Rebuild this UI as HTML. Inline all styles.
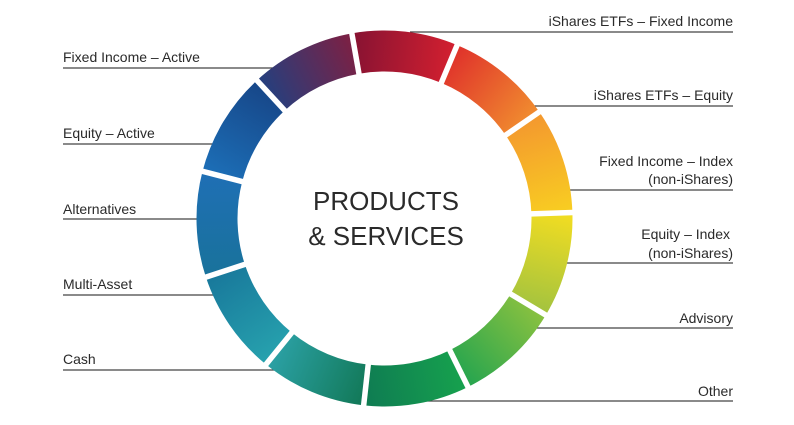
<!DOCTYPE html>
<html><head><meta charset="utf-8"><style>
body{margin:0;background:#fff;width:794px;height:420px;overflow:hidden}
svg text{font-family:"Liberation Sans",sans-serif;fill:#2a2a2a}
</style></head><body>
<svg id="s" width="794" height="420" viewBox="0 0 794 420" xmlns="http://www.w3.org/2000/svg">
<defs id="d"></defs>
<g stroke="#444" stroke-width="1.2">
<line x1="63" y1="68" x2="300" y2="68"/>
<line x1="63" y1="144" x2="300" y2="144"/>
<line x1="63" y1="219" x2="300" y2="219"/>
<line x1="63" y1="295" x2="300" y2="295"/>
<line x1="63" y1="370" x2="300" y2="370"/>
<line x1="410" y1="32" x2="733" y2="32"/>
<line x1="450" y1="106" x2="733" y2="106"/>
<line x1="450" y1="190" x2="733" y2="190"/>
<line x1="450" y1="263" x2="733" y2="263"/>
<line x1="450" y1="328" x2="733" y2="328"/>
<line x1="410" y1="401" x2="733" y2="401"/>
</g>
<circle cx="384.5" cy="218.5" r="170" fill="#fff"/>
<g id="ring"></g>
<g font-size="14">
<text x="63" y="62">Fixed Income – Active</text>
<text x="63" y="138">Equity – Active</text>
<text x="63" y="214">Alternatives</text>
<text x="63" y="289">Multi-Asset</text>
<text x="63" y="364">Cash</text>
<g text-anchor="end">
<text x="733" y="26">iShares ETFs – Fixed Income</text>
<text x="733" y="100">iShares ETFs – Equity</text>
<text x="733" y="166">Fixed Income – Index</text>
<text x="733" y="184">(non-iShares)</text>
<text x="730" y="239">Equity – Index</text>
<text x="733" y="258">(non-iShares)</text>
<text x="733" y="323">Advisory</text>
<text x="733" y="396">Other</text>
</g></g>
<g font-size="26" text-anchor="middle">
<text x="386" y="210">PRODUCTS</text>
<text x="386" y="245">&amp; SERVICES</text>
</g>
</svg>
<script>
var cx=384.5,cy=218.5,R=188,r=147,n=11,start=-100,step=360/11;
var cols=[["#8a1332","#d01f30"],["#e0352b","#f0892f"],["#f49a2e","#f8cc22"],["#f0dc22","#a6c43e"],["#86c040","#2aa64e"],["#16a04e","#0f7d52"],["#137a5a","#2a9fa2"],["#26a0ad","#197a9c"],["#19729c","#1f6fb4"],["#1c6db5","#17488a"],["#283e7c","#7a2145"]];
var d=document.getElementById("d"),g=document.getElementById("ring"),h="",dh="";
function P(a,rr){a=a*Math.PI/180;return [cx+rr*Math.cos(a),cy+rr*Math.sin(a)];}
for(var i=0;i<n;i++){var a0=start+i*step,a1=a0+step;
var p0=P(a0,R),p1=P(a1,R),q1=P(a1,r),q0=P(a0,r),m0=P(a0,(R+r)/2),m1=P(a1,(R+r)/2);
dh+='<linearGradient id="g'+i+'" gradientUnits="userSpaceOnUse" x1="'+m0[0]+'" y1="'+m0[1]+'" x2="'+m1[0]+'" y2="'+m1[1]+'"><stop offset="0" stop-color="'+cols[i][0]+'"/><stop offset="1" stop-color="'+cols[i][1]+'"/></linearGradient>';
h+='<path fill="url(#g'+i+')" d="M'+p0+' A'+R+','+R+' 0 0 1 '+p1+' L'+q1+' A'+r+','+r+' 0 0 0 '+q0+'Z"/>';}
for(var i=0;i<n;i++){var a=start+i*step,o=P(a,r-4),e=P(a,R+4);h+='<line x1="'+o[0]+'" y1="'+o[1]+'" x2="'+e[0]+'" y2="'+e[1]+'" stroke="#fff" stroke-width="5.5"/>';}
d.innerHTML=dh;g.innerHTML=h;
</script>
</body></html>
